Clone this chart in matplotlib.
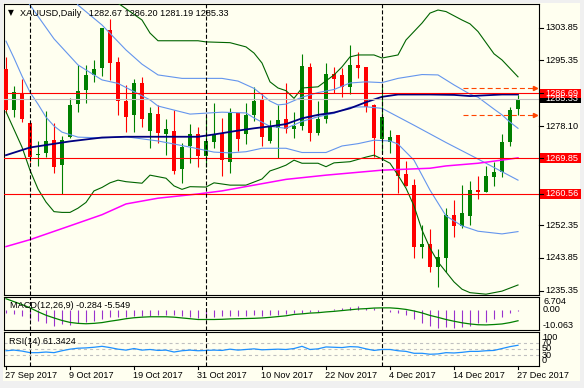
import matplotlib
matplotlib.use("Agg")
import matplotlib.pyplot as plt
import matplotlib.transforms as mtransforms
from matplotlib.patches import Rectangle
from matplotlib.lines import Line2D

W, H = 584, 388
BG = '#FFFFF0'

# ---- values (daily bars, 27 Sep 2017 - 27 Dec 2017) ----
date_ticks = [0, 8, 16, 24, 32, 40, 48, 56, 64]
date_labels = ["27 Sep 2017", "9 Oct 2017", "19 Oct 2017", "31 Oct 2017", "10 Nov 2017",
               "22 Nov 2017", "4 Dec 2017", "14 Dec 2017", "27 Dec 2017"]
month_starts = [3, 25, 47]

opens = [1293.0, 1282.4, 1286.7, 1279.0, 1270.6, 1271.2, 1274.5, 1268.1, 1275.3, 1283.8,
         1287.6, 1291.5, 1293.2, 1303.2, 1294.9, 1284.7, 1281.0, 1289.5, 1277.0, 1281.3,
         1276.1, 1276.9, 1267.1, 1273.1, 1276.1, 1270.5, 1274.1, 1276.3, 1268.9, 1281.5,
         1276.0, 1281.1, 1285.0, 1274.4, 1277.8, 1280.1, 1277.5, 1278.2, 1293.5, 1276.5,
         1280.0, 1291.7, 1291.4, 1288.3, 1294.0, 1293.5, 1283.6, 1274.7, 1274.1, 1275.9,
         1265.7, 1262.8, 1246.8, 1247.6, 1241.6, 1243.7, 1255.0, 1252.2, 1254.8, 1261.5,
         1261.1, 1265.0, 1266.3, 1274.1, 1282.67]
highs = [1296.2, 1288.6, 1290.4, 1279.2, 1274.4, 1282.1, 1278.9, 1275.6, 1285.5, 1294.1,
         1294.1, 1295.4, 1303.7, 1306.1, 1296.1, 1288.9, 1290.4, 1290.9, 1283.2, 1283.6,
         1280.1, 1282.4, 1273.7, 1278.7, 1278.0, 1280.8, 1284.1, 1280.3, 1282.8, 1281.6,
         1284.3, 1288.3, 1286.9, 1279.8, 1283.6, 1289.3, 1281.9, 1296.9, 1294.7, 1284.7,
         1294.7, 1293.5, 1293.2, 1299.3, 1297.5, 1293.6, 1283.9, 1288.9, 1277.2, 1275.9,
         1269.0, 1264.3, 1252.3, 1251.3, 1246.1, 1256.8, 1258.9, 1262.9, 1264.0, 1265.2,
         1267.8, 1268.9, 1276.1, 1283.2, 1286.20]
lows = [1281.6, 1280.5, 1279.3, 1268.9, 1267.9, 1270.2, 1266.0, 1260.5, 1275.0, 1281.9,
        1284.3, 1289.7, 1291.2, 1290.2, 1281.1, 1276.7, 1276.7, 1277.9, 1272.4, 1273.7,
        1270.6, 1265.7, 1263.4, 1268.5, 1267.6, 1267.6, 1272.4, 1265.3, 1265.9, 1271.8,
        1273.5, 1279.4, 1273.1, 1273.9, 1269.8, 1276.5, 1275.0, 1277.2, 1274.4, 1275.9,
        1278.9, 1286.7, 1285.7, 1286.5, 1290.6, 1281.9, 1270.2, 1271.2, 1271.2, 1260.8,
        1262.6, 1243.7, 1243.7, 1240.3, 1236.2, 1240.3, 1249.4, 1251.6, 1252.4, 1259.1,
        1261.1, 1262.6, 1264.8, 1273.0, 1281.19]
closes = [1282.4, 1287.0, 1280.0, 1270.2, 1270.9, 1274.2, 1267.6, 1274.5, 1283.7, 1287.4,
          1291.5, 1293.0, 1303.6, 1294.7, 1284.8, 1280.6, 1289.5, 1280.0, 1281.5, 1276.3,
          1277.5, 1266.6, 1272.8, 1276.1, 1270.5, 1274.3, 1275.8, 1269.4, 1281.5, 1274.7,
          1281.0, 1284.7, 1275.4, 1277.9, 1279.8, 1277.5, 1278.3, 1293.8, 1276.3, 1280.0,
          1291.7, 1290.5, 1288.3, 1294.0, 1293.4, 1283.1, 1275.0, 1280.6, 1275.4, 1265.3,
          1262.7, 1246.6, 1247.6, 1241.4, 1244.0, 1255.0, 1252.2, 1255.6, 1261.5, 1261.1,
          1265.2, 1266.1, 1274.1, 1282.4, 1285.33]

# indicator lines, read at some bars (bar index, price)
bb_up_i = [0, 3, 6, 9, 12, 14, 17, 18, 19, 24, 25, 28, 30, 31, 32, 33, 34, 35, 36, 37, 39,
           41, 42, 43, 44, 46, 47, 49, 50, 52, 53, 54, 55, 57, 58, 59, 61, 62, 64]
bb_up_v = [1355.3, 1352.7, 1347.5, 1337.1, 1318.8, 1310.2, 1305.8, 1302.4, 1300.4, 1300.4,
           1300.1, 1299.9, 1298.8, 1297.2, 1294.6, 1289.7, 1288.1, 1287.4, 1285.4, 1288.1,
           1288.4, 1291.5, 1293.6, 1296.2, 1296.7, 1296.7, 1295.9, 1296.7, 1300.6, 1305.0,
           1307.6, 1308.4, 1308.0, 1305.8, 1304.8, 1302.8, 1297.0, 1295.4, 1291.0]
bb_lo_i = [0, 2, 3, 4, 5, 6, 7, 8, 9, 10, 11, 12, 13, 14, 15, 17, 18, 20, 21, 22, 23, 25,
           26, 28, 30, 32, 33, 34, 35, 36, 37, 39, 40, 41, 43, 45, 46, 47, 48, 49, 50, 51,
           52, 53, 54, 55, 56, 57, 58, 60, 62, 64]
bb_lo_v = [1281.9, 1272.7, 1266.7, 1261.8, 1258.4, 1255.9, 1255.7, 1255.7, 1256.8, 1258.3,
           1261.3, 1262.2, 1263.4, 1264.1, 1263.7, 1263.3, 1265.4, 1264.6, 1262.6, 1261.7,
           1262.4, 1262.3, 1263.4, 1262.8, 1262.8, 1264.4, 1266.5, 1267.2, 1268.0, 1269.3,
           1268.5, 1268.5, 1267.6, 1268.6, 1268.9, 1270.1, 1270.6, 1269.6, 1268.5, 1265.4,
           1262.0, 1257.4, 1251.1, 1246.4, 1242.8, 1240.2, 1237.6, 1235.7, 1234.8, 1234.4,
           1235.2, 1236.8]
blue_up_i = [0, 6, 9, 12, 15, 17, 19, 22, 27, 29, 31, 33, 34, 35, 37, 39, 41, 43, 45, 47,
             49, 52, 54, 56, 58, 59, 61, 62, 63, 64]
blue_up_v = [1339.7, 1322.7, 1309.7, 1304.5, 1298.0, 1294.3, 1291.5, 1290.6, 1290.6, 1289.9,
             1288.0, 1284.7, 1283.7, 1283.9, 1285.7, 1286.9, 1287.7, 1289.4, 1289.7, 1289.5,
             1290.6, 1291.6, 1291.5, 1288.9, 1286.5, 1285.7, 1282.6, 1281.1, 1279.2, 1277.6]
blue_mid_i = [0, 3, 6, 9, 12, 14, 18, 19, 23, 27, 30, 31, 33, 35, 37, 39, 41, 43, 45, 47,
              51, 55, 59, 64]
blue_mid_v = [1319.3, 1309.7, 1300.9, 1294.1, 1290.2, 1289.3, 1285.0, 1283.4, 1281.3, 1281.8,
              1281.6, 1280.3, 1278.1, 1277.6, 1279.4, 1280.6, 1281.5, 1283.1, 1283.2, 1282.8,
              1278.4, 1273.9, 1269.6, 1264.1]
blue_lo_i = [0, 1, 2, 3, 4, 5, 6, 7, 9, 12, 15, 19, 23, 26, 28, 30, 32, 35, 37, 40, 42, 44,
             46, 48, 49, 51, 53, 55, 57, 59, 62, 64]
blue_lo_v = [1300.3, 1295.9, 1291.2, 1287.0, 1283.9, 1280.5, 1278.2, 1276.6, 1275.3, 1275.1,
             1275.4, 1274.3, 1272.7, 1271.4, 1271.2, 1271.5, 1272.4, 1272.4, 1271.3, 1271.3,
             1273.0, 1273.6, 1274.5, 1274.3, 1273.5, 1269.3, 1261.5, 1254.8, 1252.2, 1250.8,
             1250.1, 1250.7]
sma100_i = [0, 3, 8, 12, 15, 24, 26, 29, 31, 33, 35, 37, 39, 41, 43, 45, 47, 49, 53, 56, 58,
            62, 64]
sma100_v = [1270.6, 1272.6, 1274.2, 1275.2, 1275.4, 1275.4, 1276.0, 1277.0, 1277.6, 1278.1,
            1278.7, 1280.2, 1281.1, 1281.7, 1282.8, 1284.4, 1285.8, 1286.4, 1286.4, 1286.3,
            1286.0, 1286.4, 1286.4]
sma200_i = [0, 3, 8, 12, 15, 19, 24, 27, 31, 35, 40, 47, 53, 55, 59, 63, 64]
sma200_v = [1246.8, 1248.6, 1252.2, 1255.1, 1257.9, 1259.4, 1260.5, 1261.3, 1262.8, 1264.3,
            1265.4, 1266.7, 1267.2, 1267.8, 1268.5, 1269.6, 1269.9]

levels = [1286.69, 1269.85, 1260.56]
bid = 1285.33
arrows = [1288.0, 1281.06]
arrow_from, arrow_to = 57.1, 66.1
price_ticks = [1303.85, 1295.35, 1278.10, 1252.35, 1243.85, 1235.35]

macd = [-1.5, -2.3, -3.2, -4.5, -5.8, -6.6, -8.4, -7.1, -7.5, -6.9, -6.1, -5.5, -4.5, -3.7,
        -3.5, -3.5, -3.2, -3.2, -3.2, -2.8, -2.8, -2.8, -3.2, -3.5, -4.0, -4.0, -3.5, -3.2,
        -3.2, -3.2, -3.2, -2.8, -3.2, -2.8, -2.6, -2.3, -1.7, -1.4, -0.9, -1.0, 0.2, 0.5,
        0.9, 1.5, 2.0, 1.2, 0.9, 0.3, -1.0, -1.4, -2.8, -4.5, -6.6, -8.0, -9.2, -9.0, -9.3,
        -9.0, -8.2, -6.9, -6.1, -4.9, -3.5, -1.7, -0.284]
signal = [5.8, 4.3, 2.8, 1.1, -0.9, -2.7, -4.1, -5.4, -6.4, -6.9, -7.1, -6.9, -6.5, -5.8,
          -5.2, -4.5, -4.0, -3.7, -3.5, -3.5, -3.5, -3.7, -4.1, -4.5, -4.9, -4.9, -4.9, -4.8,
          -4.6, -4.5, -4.4, -4.3, -4.1, -3.8, -3.4, -3.0, -2.3, -2.0, -1.6, -1.4, -1.0, -0.7,
          -0.3, 0.1, 0.5, 0.7, 1.0, 1.1, 1.1, 0.8, 0.3, -0.5, -1.5, -2.8, -3.8, -4.9, -5.8,
          -6.6, -7.2, -7.6, -7.7, -7.5, -7.2, -6.5, -5.549]
rsi = [44, 46, 43, 38, 38, 40, 38, 44, 49, 52, 53, 55, 58, 54, 49, 46, 51, 46, 48, 45, 46,
       40, 44, 46, 44, 45, 46, 45, 49, 46, 48, 50, 47, 48, 49, 48, 51, 58, 48, 50, 56, 55,
       54, 57, 56, 50, 45, 48, 48, 44, 42, 36, 36, 33, 34, 38, 37, 39, 42, 42, 44, 45, 51,
       57, 61.34]

plt.rcParams['font.family'] = ['Liberation Sans', 'DejaVu Sans']
plt.rcParams['lines.scale_dashes'] = False
FS = 6.6

fig = plt.figure(figsize=(W / 100, H / 100), dpi=100)
fig.patch.set_facecolor('#F0F0F0')
fig.add_artist(Rectangle((3 / W, 1 - 381 / H), 577 / W, 378 / H, transform=fig.transFigure,
                         fc=BG, ec='none', zorder=0))


def panel(top, bottom):
    a = fig.add_axes([4 / W, 1 - bottom / H, 535 / W, (bottom - top) / H])
    a.set_facecolor(BG)
    a.set_xticks([])
    a.set_yticks([])
    for s in a.spines.values():
        s.set_color('black')
        s.set_linewidth(0.8)
    a.set_xlim(-0.25, 66.625)
    return a


ax = panel(3.5, 294.5)
axm = panel(297, 329.5)
axr = panel(331.5, 365.5)
ax.set_ylim(1234.32, 1310.1)
axm.set_ylim(-10.063, 6.704)
axr.set_ylim(-2.5, 104.7)

# candles
for i in range(len(opens)):
    o, h, l, c = opens[i], highs[i], lows[i], closes[i]
    col = '#008000' if c >= o else '#FF0000'
    ax.vlines(i, l, h, color=col, lw=0.8, zorder=3)
    ax.bar(i, max(abs(c - o), 0.3), bottom=min(o, c), width=0.62, color=col, lw=0, zorder=3)

# indicators and lines
ax.plot(bb_up_i, bb_up_v, color='#006400', lw=0.8, zorder=4)
ax.plot(bb_lo_i, bb_lo_v, color='#006400', lw=0.8, zorder=4)
for xi, yv in [(blue_up_i, blue_up_v), (blue_mid_i, blue_mid_v), (blue_lo_i, blue_lo_v)]:
    ax.plot(xi, yv, color='#6495ED', lw=0.8, zorder=4)
ax.plot(sma100_i, sma100_v, color='#000080', lw=1.3, zorder=4)
ax.plot(sma200_i, sma200_v, color='#FF00FF', lw=1.1, zorder=4)
ax.axhline(bid, color='#C0C0C0', lw=0.8, zorder=4)
for lv in levels:
    ax.axhline(lv, color='#FF0000', lw=0.8, zorder=5)
for av in arrows:
    ax.plot([arrow_from, arrow_to], [av, av], color='#FF4500', lw=0.8, ls=(0, (3.6, 2.2)), zorder=5)
    ax.plot([arrow_to], [av], marker='>', ms=3, color='#FF4500', mec='#FF4500', zorder=5)

for a in (ax, axm, axr):
    for m in month_starts:
        a.axvline(m, color='black', lw=0.8, ls=(0, (2.9, 1.5)), zorder=6)

# MACD
axm.vlines(range(len(macd)), 0, macd, color='#9932CC', lw=0.8, zorder=3)
axm.plot(range(len(signal)), signal, color='#008000', lw=0.9, zorder=4)

# RSI
for lv in (70, 50, 30):
    axr.axhline(lv, color='#C0C0C0', lw=0.8, ls=(0, (2.2, 2.2)), zorder=2)
axr.plot(range(len(rsi)), rsi, color='#1E90FF', lw=0.9, zorder=4)

# texts
fig.text(8 / W, 1 - 13 / H, '\u25bc', fontsize=5.5, family='DejaVu Sans', va='center')
fig.text(20 / W, 1 - 13 / H, 'XAUUSD,Daily   1282.67 1286.20 1281.19 1285.33',
         fontsize=FS, va='center')
fig.text(10 / W, 1 - 305.5 / H, 'MACD(12,26,9) -0.284 -5.549', fontsize=FS, va='center')
fig.text(9 / W, 1 - 341.5 / H, 'RSI(14) 61.3424', fontsize=FS, va='center')

tr = mtransforms.blended_transform_factory(fig.transFigure, ax.transData)
for v in price_ticks:
    fig.text(545 / W, v, f'{v:.2f}', transform=tr, fontsize=FS, va='center')
for v in price_ticks + levels + [bid]:
    fig.add_artist(Line2D([539 / W, 543 / W], [v, v], transform=tr, color='black', lw=0.8))

boxes = [(bid, '#000000')] + [(lv, '#FF0000') for lv in levels]
for v, colr in boxes:
    fig.add_artist(Rectangle((540 / W, v - 1.25), 41 / W, 2.5, transform=tr, fc=colr, ec='none'))
    fig.text(545 / W, v, f'{v:.2f}', transform=tr, fontsize=FS, va='center', color='white')

trm = mtransforms.blended_transform_factory(fig.transFigure, axm.transData)
fig.text(543 / W, 6.704, '6.704', transform=trm, fontsize=FS, va='top')
fig.text(543 / W, 0.0, '0.00', transform=trm, fontsize=FS, va='center')
fig.text(543 / W, -10.063, '-10.063', transform=trm, fontsize=FS, va='bottom')

trr = mtransforms.blended_transform_factory(fig.transFigure, axr.transData)
fig.text(542 / W, 100, '100', transform=trr, fontsize=FS, va='top')
for lv in (70, 50, 30):
    fig.text(542 / W, lv, str(lv), transform=trr, fontsize=FS, va='center')
fig.text(542 / W, 0, '0', transform=trr, fontsize=FS, va='bottom')

trx = mtransforms.blended_transform_factory(axr.transData, fig.transFigure)
for i, lab in zip(date_ticks, date_labels):
    fig.text(i - 0.1, 1 - 375 / H, lab, transform=trx, fontsize=FS, va='center')
    fig.add_artist(Line2D([i, i], [1 - 365.5 / H, 1 - 369 / H], transform=trx,
                          color='black', lw=0.8))

fig.savefig('out.png', dpi=100, facecolor=fig.get_facecolor())
